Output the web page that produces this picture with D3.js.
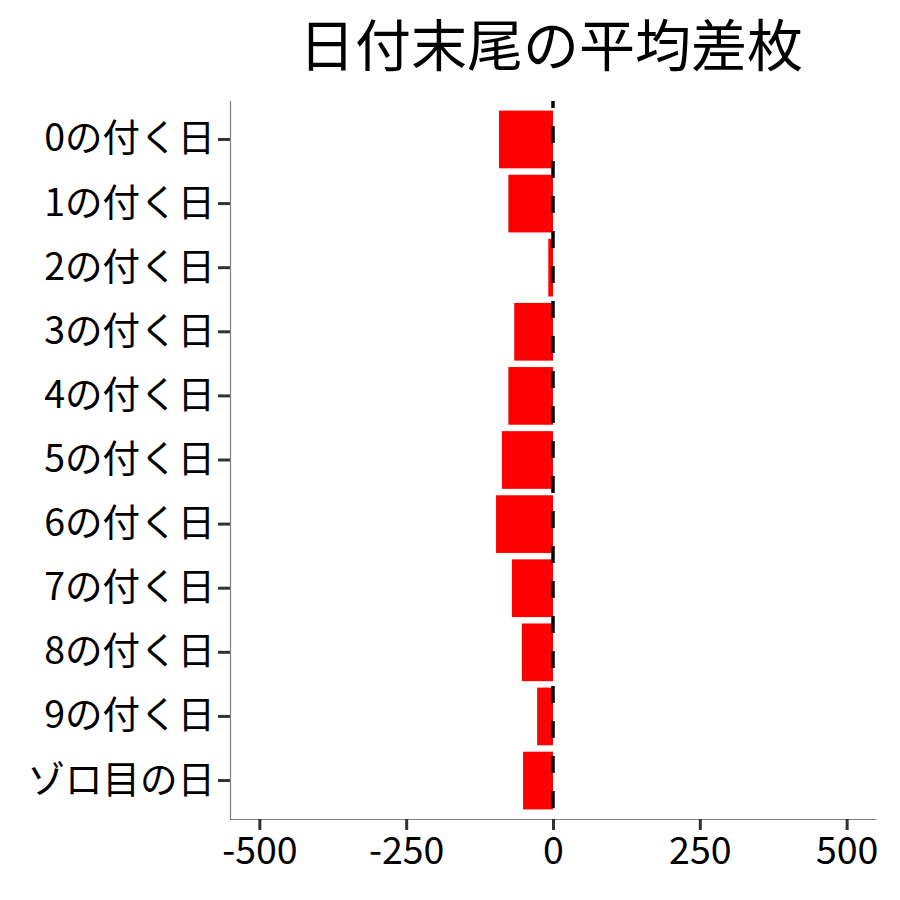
<!DOCTYPE html>
<html>
<head>
<meta charset="utf-8">
<script src="https://cdn.jsdelivr.net/npm/d3@7"></script>
<style>
  html, body { margin: 0; padding: 0; background: #fff; }
  svg { display: block; }
  text { font-family: "Noto Sans CJK JP", "Noto Sans", sans-serif; }
</style>
</head>
<body>
<svg id="chart" width="900" height="900"></svg>
<script>
const title = "日付末尾の平均差枚";
const categories = ["0の付く日", "1の付く日", "2の付く日", "3の付く日", "4の付く日",
  "5の付く日", "6の付く日", "7の付く日", "8の付く日", "9の付く日", "ゾロ目の日"];
const values = [-92, -76, -8, -66, -76, -87, -97, -70, -53, -27, -51];
const xTicks = [-500, -250, 0, 250, 500];
const xDomain = [-550, 550];
const refValue = 0;

const svg = d3.select("#chart");
const margin = { left: 230, right: 876, top: 101, bottom: 819 };
const labelSize = 37.5;

const x = d3.scaleLinear().domain(xDomain).range([margin.left, margin.right]);
const y = d3.scaleBand().domain(categories)
  .range([margin.top, margin.bottom])
  .paddingInner(0.1).paddingOuter(0.15);

// bars
svg.append("g").selectAll("rect").data(values).join("rect")
  .attr("x", d => x(Math.min(0, d)))
  .attr("width", d => Math.abs(x(d) - x(0)))
  .attr("y", (d, i) => y(categories[i]))
  .attr("height", y.bandwidth())
  .attr("fill", "#ff0000");

// dashed reference line
svg.append("line")
  .attr("x1", x(refValue)).attr("x2", x(refValue))
  .attr("y1", margin.top).attr("y2", margin.bottom)
  .attr("stroke", "#000").attr("stroke-width", 3.5)
  .attr("stroke-dasharray", "17 18").attr("stroke-dashoffset", 10);

// x axis
const xAxis = svg.append("g").attr("transform", `translate(0,${margin.bottom})`)
  .call(d3.axisBottom(x).tickValues(xTicks).tickSize(11).tickPadding(7).tickFormat(d => String(d)));
xAxis.select(".domain").attr("stroke", "#808080").attr("stroke-width", 1.2)
  .attr("d", `M${margin.left},0.5H${margin.right}`);
xAxis.selectAll(".tick line").attr("stroke", "#333333").attr("stroke-width", 3);
xAxis.selectAll(".tick text").attr("fill", "#000").attr("font-size", labelSize)
  .attr("font-family", '"Noto Sans CJK JP", sans-serif');

// y axis
const yAxis = svg.append("g").attr("transform", `translate(${margin.left},0)`)
  .call(d3.axisLeft(y).tickSize(12).tickPadding(3));
yAxis.select(".domain").attr("stroke", "#808080").attr("stroke-width", 1.2)
  .attr("d", `M0.5,${margin.top}V${margin.bottom}`);
yAxis.selectAll(".tick line").attr("stroke", "#333333").attr("stroke-width", 3);
yAxis.selectAll(".tick text").attr("fill", "#000").attr("font-size", labelSize)
  .attr("font-family", '"Noto Sans CJK JP", sans-serif');

// title
svg.append("text")
  .attr("x", 551)
  .attr("y", 66)
  .attr("text-anchor", "middle")
  .attr("font-size", 56)
  .attr("fill", "#000")
  .text(title);
</script>
</body>
</html>
